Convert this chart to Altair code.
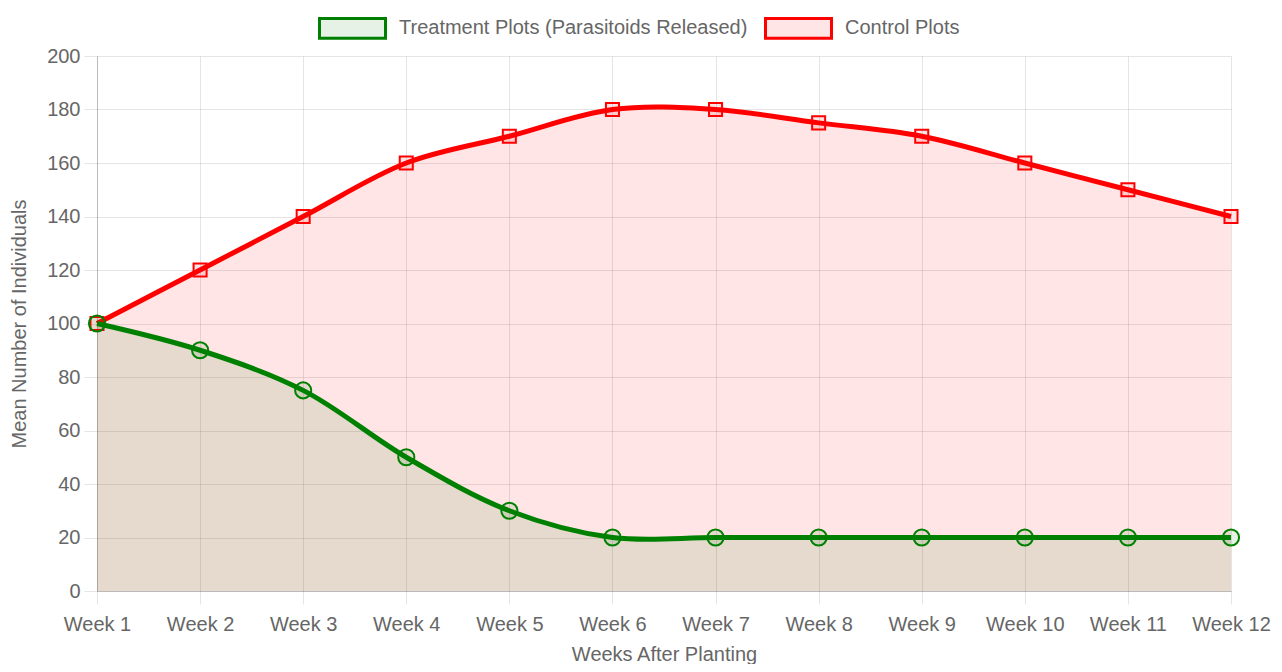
import altair as alt
import pandas as pd

weeks = ["Week 1", "Week 2", "Week 3", "Week 4", "Week 5", "Week 6",
         "Week 7", "Week 8", "Week 9", "Week 10", "Week 11", "Week 12"]
treatment = [100, 90, 75, 50, 30, 20, 20, 20, 20, 20, 20, 20]
control = [100, 120, 140, 160, 170, 180, 180, 175, 170, 160, 150, 140]
TREAT = "Treatment Plots (Parasitoids Released)"
CTRL = "Control Plots"
y_ticks = [0, 20, 40, 60, 80, 100, 120, 140, 160, 180, 200]

df = pd.DataFrame({
    "week": weeks + weeks,
    "series": [CTRL] * 12 + [TREAT] * 12,
    "value": control + treatment,
})

FONT = "Liberation Sans"
GRAY = "#666666"
GREEN = "#008000"
RED = "#ff0000"

x_enc = alt.X("week:N", sort=weeks,
              scale=alt.Scale(type="point", padding=0),
              axis=alt.Axis(title="Weeks After Planting", labelAngle=0, grid=True,
                            labelPadding=10, titlePadding=10))
y_enc = alt.Y("value:Q", scale=alt.Scale(domain=[0, 200], nice=False),
              axis=alt.Axis(title="Mean Number of Individuals", values=y_ticks,
                            labelPadding=4, titlePadding=17))

legend = alt.Legend(title=None, orient="none", legendX=221, legendY=-62.5,
                    direction="horizontal",
                    symbolType="M-1,-0.3H1V0.3H-1Z", symbolSize=4356,
                    symbolStrokeWidth=3, symbolOpacity=1,
                    labelFont=FONT, labelFontSize=20, labelColor=GRAY,
                    labelLimit=1000, labelOffset=12, columnPadding=11, padding=0)

fill_enc = alt.Fill("series:N",
                    scale=alt.Scale(domain=[TREAT, CTRL],
                                    range=["rgba(0,128,0,0.1)", "rgba(255,0,0,0.1)"]),
                    legend=legend)
stroke_enc = alt.Stroke("series:N",
                        scale=alt.Scale(domain=[TREAT, CTRL], range=[GREEN, RED]),
                        legend=legend)

base = alt.Chart(df).encode(x=x_enc, y=y_enc)

area_ctrl = base.transform_filter(alt.datum.series == CTRL).mark_area(
    interpolate="catmull-rom", color="rgba(255,0,0,0.1)")
area_treat = base.transform_filter(alt.datum.series == TREAT).mark_area(
    interpolate="catmull-rom", color="rgba(0,128,0,0.1)")
line_ctrl = base.transform_filter(alt.datum.series == CTRL).mark_line(
    interpolate="catmull-rom", color=RED, strokeWidth=5)
line_treat = base.transform_filter(alt.datum.series == TREAT).mark_line(
    interpolate="catmull-rom", color=GREEN, strokeWidth=5)
pts_ctrl = base.transform_filter(alt.datum.series == CTRL).mark_point(
    shape="square", size=170, strokeWidth=2, opacity=1).encode(fill=fill_enc, stroke=stroke_enc)
pts_treat = base.transform_filter(alt.datum.series == TREAT).mark_point(
    shape="circle", size=260, strokeWidth=2, opacity=1).encode(fill=fill_enc, stroke=stroke_enc)

chart = alt.layer(area_ctrl, area_treat, line_ctrl, pts_ctrl, line_treat, pts_treat).properties(
    width=1134, height=535,
    autosize=alt.AutoSizeParams(type="none"),
    padding={"left": 89, "top": 48, "right": 42, "bottom": 73},
    background="white",
).configure_view(stroke=None).configure_axis(
    labelFont=FONT, titleFont=FONT, labelFontSize=20, titleFontSize=20,
    labelColor=GRAY, titleColor=GRAY, titleFontWeight="normal",
    gridColor="rgba(0,0,0,0.1)", tickColor="rgba(0,0,0,0.1)", tickSize=13,
    domainColor="rgba(0,0,0,0.18)",
)

chart.save("out.html", embed_options={"renderer": "svg", "actions": False})
